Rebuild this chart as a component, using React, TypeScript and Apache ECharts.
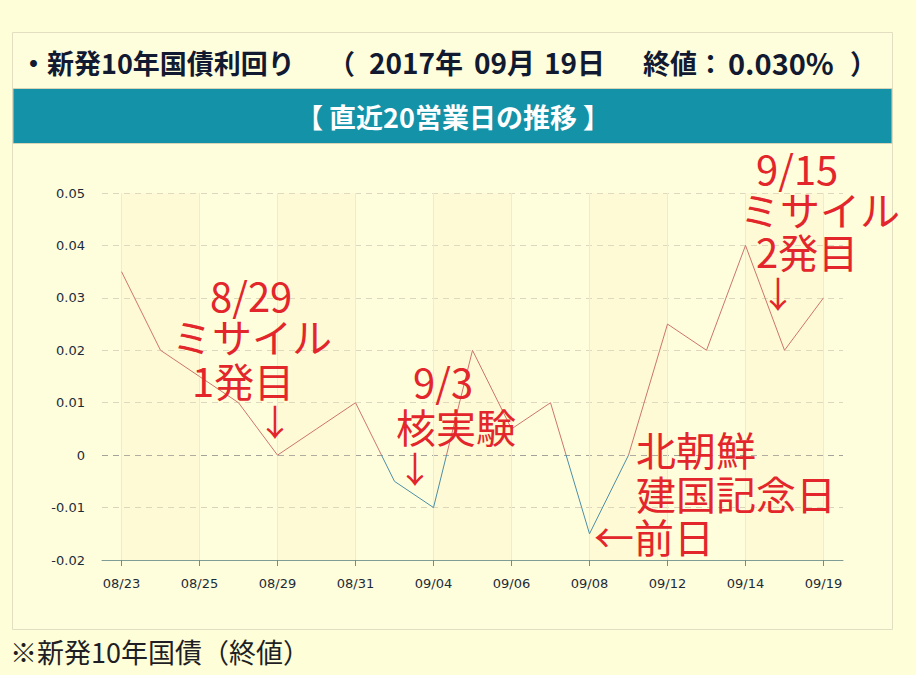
import React, { useEffect, useRef } from "react";
import * as echarts from "echarts";

const categories = [
  "08/23", "08/24", "08/25", "08/28", "08/29", "08/30", "08/31", "09/01", "09/04", "09/05",
  "09/06", "09/07", "09/08", "09/11", "09/12", "09/13", "09/14", "09/15", "09/19",
];
const yields = [
  0.035, 0.02, 0.015, 0.01, 0, 0.005, 0.01, -0.005, -0.01, 0.02,
  0.005, 0.01, -0.015, 0, 0.025, 0.02, 0.04, 0.02, 0.03,
];
const yTicks = { min: -0.02, max: 0.05, interval: 0.01 };

const headerTitle = "・新発10年国債利回り";
const headerParts = ["（", "2017年", "09月", "19日", "終値：", "0.030%", "）"];
const bandTitle = "【 直近20営業日の推移 】";
const footer = "※新発10年国債（終値）";

const note1 = ["8/29", "ミサイル", "1発目", "↓"];
const note2 = ["9/3", "核実験", "↓"];
const note3 = ["9/15", "ミサイル", "2発目", "↓"];
const note4 = ["北朝鮮", "建国記念日", "←前日"];

export default function App() {
  const ref = useRef<HTMLDivElement>(null);
  useEffect(() => {
    document.body.style.margin = "0";
    const chart = echarts.init(ref.current!, null, { renderer: "svg" });
    const RED = "#e3262b";
    const NAVY = "#121a32";
    const cjk = "'Noto Sans CJK JP', sans-serif";
    const redText = (text: string, x: number, y: number, size = 40, align = "left") => ({
      type: "text",
      x,
      y,
      z: 100,
      style: {
        text,
        fill: RED,
        font: `${size}px ${cjk}`,
        textAlign: align,
        textVerticalAlign: "middle",
      },
    });
    const headText = (text: string, x: number, size = 27) => ({
      type: "text",
      x,
      y: 62,
      style: { text, fill: NAVY, font: `bold ${size}px ${cjk}`, textVerticalAlign: "middle" },
    });
    const labeled = categories.filter((_, i) => i % 2 === 0);
    const bands: any[] = [];
    for (let i = 0; i + 1 < labeled.length; i += 2) {
      bands.push([{ xAxis: labeled[i] }, { xAxis: labeled[i + 1] }]);
    }
    const splitColors = ["#b8c4bc", "#d9d3bb", "#a3a39c", "#ddd7c0", "#ddd7c0", "#ddd7c0", "#ddd7c0", "#ddd7c0"];
    chart.setOption({
      animation: false,
      backgroundColor: "#fefed9",
      grid: { left: 102, right: 73, top: 193, bottom: 115 },
      xAxis: {
        type: "category",
        data: categories,
        boundaryGap: true,
        axisLine: { show: true, onZero: false, lineStyle: { color: "#7f9d96", width: 1 } },
        axisTick: { show: true, alignWithLabel: true, interval: 1, length: 6, lineStyle: { color: "#6f8f88" } },
        axisLabel: {
          interval: 1,
          margin: 17,
          color: "#1c2b3a",
          fontFamily: "'DejaVu Sans', sans-serif",
          fontSize: 13,
        },
        splitLine: { show: false },
      },
      yAxis: {
        type: "value",
        min: yTicks.min,
        max: yTicks.max,
        interval: yTicks.interval,
        axisLine: { show: false },
        axisTick: { show: false },
        axisLabel: {
          margin: 17,
          color: "#1c2b3a",
          fontFamily: "'DejaVu Sans', sans-serif",
          fontSize: 13,
        },
        splitLine: { show: true, lineStyle: { color: splitColors, type: [6, 5], width: 1 } },
      },
      visualMap: {
        show: false,
        type: "piecewise",
        dimension: 1,
        seriesIndex: 0,
        pieces: [
          { gte: -1, lt: 0, color: "#4b8ea6" },
          { gte: 0, lte: 1, color: "#cc746c" },
        ],
        outOfRange: { color: "#cc746c" },
      },
      series: [
        {
          type: "line",
          data: yields,
          showSymbol: false,
          symbol: "none",
          z: 5,
          lineStyle: { width: 1 },
        },
        {
          type: "line",
          data: yields,
          showSymbol: false,
          symbol: "none",
          silent: true,
          z: 1,
          lineStyle: { opacity: 0 },
          itemStyle: { color: "#f0ead0" },
          markArea: {
            silent: true,
            itemStyle: { color: "rgba(246,232,180,0.16)" },
            data: bands,
          },
          markLine: {
            silent: true,
            symbol: ["none", "none"],
            label: { show: false },
            lineStyle: { color: "#f0ead0", type: "solid", width: 1 },
            data: labeled.map((c) => ({ xAxis: c })),
          },
        },
      ],
      graphic: [
        {
          type: "rect",
          z: -10,
          shape: { x: 12.5, y: 32.5, width: 880, height: 597 },
          style: { fill: "#fffedc", stroke: "#e2dec2", lineWidth: 1 },
        },
        {
          type: "rect",
          z: -9,
          shape: { x: 13, y: 88.5, width: 879, height: 55 },
          style: { fill: "#1492a7", stroke: "#d8d4b8", lineWidth: 1 },
        },
        headText(headerTitle, 20),
        headText(headerParts[0], 328),
        headText(headerParts[1], 369, 28),
        headText(headerParts[2], 474, 28),
        headText(headerParts[3], 544, 28),
        headText(headerParts[4], 643),
        headText(headerParts[5], 728, 29),
        headText(headerParts[6], 850),
        {
          type: "text",
          x: 453,
          y: 116,
          style: {
            text: bandTitle,
            fill: "#ffffff",
            font: `bold 27px ${cjk}`,
            textAlign: "center",
            textVerticalAlign: "middle",
          },
        },
        {
          type: "text",
          x: 10,
          y: 651,
          style: {
            text: footer,
            fill: "#1e1e24",
            font: `27px ${cjk}`,
            textVerticalAlign: "middle",
          },
        },
        redText(note1[0], 210, 295),
        redText(note1[1], 172, 336),
        redText(note1[2], 192, 380),
        redText(note1[3], 275, 420, 36, "center"),
        redText(note2[0], 413, 381),
        redText(note2[1], 396, 426),
        redText(note2[2], 415, 467, 36, "center"),
        redText(note3[0], 756, 168),
        redText(note3[1], 740, 209),
        redText(note3[2], 756, 251),
        redText(note3[3], 778, 292, 36, "center"),
        redText(note4[0], 636, 449),
        redText(note4[1], 636, 493),
        redText(note4[2], 594, 536),
      ],
    });
    return () => chart.dispose();
  }, []);
  return <div ref={ref} style={{ position: "fixed", left: 0, top: 0, width: 916, height: 675 }} />;
}
